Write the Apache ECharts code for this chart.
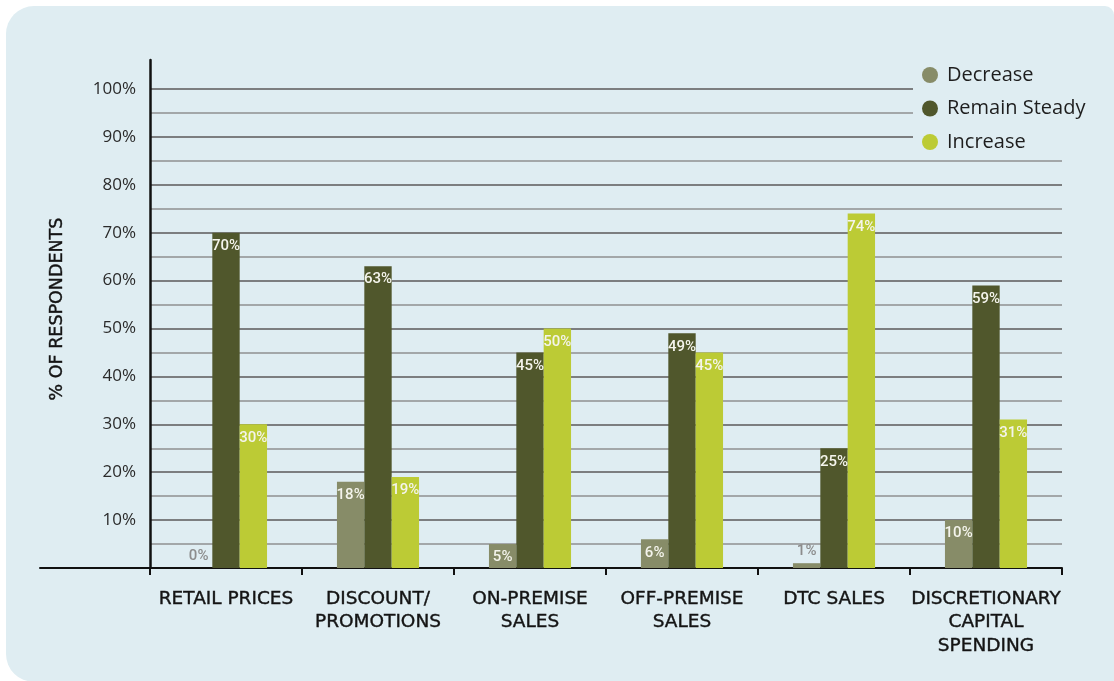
<!DOCTYPE html>
<html>
<head>
<meta charset="utf-8">
<title>Expected change by area</title>
<script src="https://cdn.jsdelivr.net/npm/echarts@6/dist/echarts.min.js"></script>
<style>
  html, body { margin: 0; padding: 0; background: #ffffff; }
  #panel {
    position: absolute; left: 6px; top: 6px; width: 1108px; height: 676px;
    background: #dfedf2; border-radius: 28px 9px 0 28px;
  }
  #chart { position: absolute; left: 0; top: 0; width: 1114px; height: 681px; }
</style>
</head>
<body>
<div id="panel"></div>
<div id="chart"></div>
<script>
// Survey responses: expected direction of change per business area (% of respondents)
const categories = [
  'RETAIL PRICES',
  'DISCOUNT/\nPROMOTIONS',
  'ON-PREMISE\nSALES',
  'OFF-PREMISE\nSALES',
  'DTC SALES',
  'DISCRETIONARY\nCAPITAL\nSPENDING'
];
const decrease     = [0, 18, 5, 6, 1, 10];
const remainSteady = [70, 63, 45, 49, 25, 59];
const increase     = [30, 19, 50, 45, 74, 31];

const seriesNames = ['Decrease', 'Remain Steady', 'Increase'];
const seriesColors = ['#878c68', '#50572c', '#bccb35'];

const labelFont = "Roboto, 'Open Sans', sans-serif";

// Small values do not leave room inside the bar, so their label sits above it in grey.
function barData(values) {
  return values.map(v => v < 3
    ? { value: v, label: { position: 'top', distance: 4, color: '#8c8c8c' } }
    : v);
}

function barSeries(name, values, color) {
  return {
    name: name,
    type: 'bar',
    xAxisIndex: 0,
    yAxisIndex: 0,
    data: barData(values),
    barGap: '0%',
    barCategoryGap: '46%',
    itemStyle: { color: color },
    label: {
      show: true,
      position: 'insideTop',
      distance: 6,
      formatter: '{c}%',
      color: '#f4f4ec',
      fontFamily: labelFont,
      fontWeight: 500,
      fontSize: 15
    },
    emphasis: { disabled: true }
  };
}

const chart = echarts.init(document.getElementById('chart'), null, { renderer: 'canvas' });

chart.setOption({
  backgroundColor: 'transparent',
  animation: false,
  legend: {
    orient: 'vertical',
    left: 913,
    top: 55,
    padding: [10, 12, 6, 9],
    backgroundColor: '#dfedf2',
    icon: 'circle',
    itemWidth: 16,
    itemHeight: 16,
    itemGap: 13.5,
    data: seriesNames,
    textStyle: {
      fontFamily: "'Open Sans', sans-serif",
      fontSize: 20,
      lineHeight: 20,
      color: '#1e1e1e',
      padding: [0, 0, 0, 4]
    },
    selectedMode: false
  },
  grid: [
    { left: 150, right: 52, top: 89, bottom: 113 },
    { left: 150, right: 52, top: 60, bottom: 113 },
    { left: 40, right: 52, top: 89, bottom: 113 }
  ],
  xAxis: [
    {
      gridIndex: 0,
      type: 'category',
      data: categories,
      axisLine: { show: false },
      axisTick: { show: true, length: 7, lineStyle: { color: '#111', width: 2 } },
      axisLabel: {
        interval: 0,
        margin: 19,
        fontFamily: "'DejaVu Sans', sans-serif",
        fontSize: 18.5,
        lineHeight: 23.5,
        color: '#141414',
        textBorderColor: '#141414',
        textBorderWidth: 0.4,
        align: 'center'
      },
      splitLine: { show: false }
    },
    {
      gridIndex: 1, type: 'value', min: 0, max: 1, show: false
    },
    {
      gridIndex: 2, type: 'value', min: 0, max: 1,
      axisLine: { show: true, onZero: false, lineStyle: { color: '#111', width: 2 } },
      axisTick: { show: false },
      axisLabel: { show: false },
      splitLine: { show: false }
    }
  ],
  yAxis: [
    {
      gridIndex: 0,
      type: 'value',
      min: 0,
      max: 100,
      interval: 5,
      axisLine: { show: false },
      axisTick: { show: false },
      axisLabel: {
        margin: 14,
        fontFamily: "'Open Sans', sans-serif",
        fontSize: 17,
        color: '#2a2a2a',
        formatter: v => (v > 0 && v % 10 === 0) ? v + '%' : ''
      },
      splitLine: {
        show: true,
        lineStyle: { color: ['#7c7e80', '#a3a7a9'], width: 2 }
      }
    },
    {
      gridIndex: 1,
      type: 'value',
      min: 0,
      max: 1,
      name: '% OF RESPONDENTS',
      nameLocation: 'middle',
      nameGap: 84,
      nameTextStyle: {
        fontFamily: "'DejaVu Sans', sans-serif",
        fontSize: 17.5,
        color: '#141414',
        textBorderColor: '#141414',
        textBorderWidth: 0.4,
        padding: [0, 0, 0, 10]
      },
      axisLine: { show: true, onZero: false, lineStyle: { color: '#111', width: 2.5 } },
      axisTick: { show: false },
      axisLabel: { show: false },
      splitLine: { show: false }
    },
    {
      gridIndex: 2, type: 'value', min: 0, max: 1, show: false
    }
  ],
  series: [
    barSeries(seriesNames[0], decrease, seriesColors[0]),
    barSeries(seriesNames[1], remainSteady, seriesColors[1]),
    barSeries(seriesNames[2], increase, seriesColors[2])
  ]
});
</script>
</body>
</html>
